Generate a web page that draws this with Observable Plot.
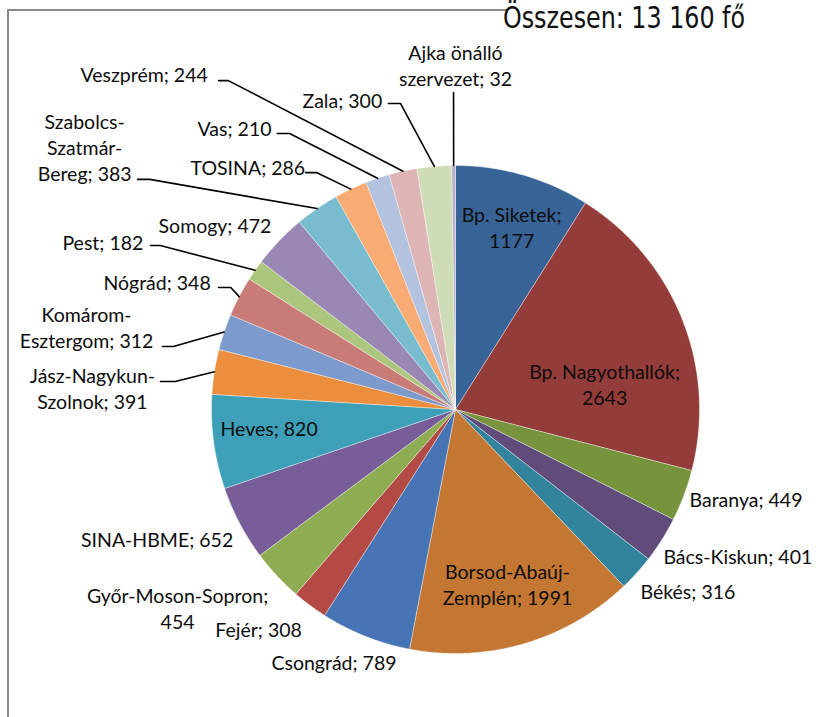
<!DOCTYPE html>
<html>
<head>
<meta charset="utf-8">
<script src="https://cdn.jsdelivr.net/npm/d3@7"></script>
<script src="https://cdn.jsdelivr.net/npm/@observablehq/plot@0.6"></script>
<style>
  html, body { margin: 0; padding: 0; background: #fff; }
  #wrap { position: relative; width: 816px; height: 717px; overflow: hidden; background: #fff; }
  #frame { position: absolute; left: 7px; top: 9px; width: 498px; height: 760px;
           border-left: 2px solid #8a8a8a; border-top: 2px solid #8a8a8a; pointer-events: none; z-index: 2; }
  #chart { position: absolute; left: 0; top: 0; }
  #title { position: absolute; left: 503px; top: 3px; z-index: 3; white-space: nowrap;
           font-family: "Liberation Sans Narrow", "DejaVu Sans Condensed", sans-serif;
           font-size: 30px; line-height: 30px; color: #111; transform-origin: 0 0; }
</style>
</head>
<body>
<div id="wrap">
  <div id="chart"></div>
  <div id="frame"></div>
  <span id="title"></span>
</div>
<script>
// ---- data ----
const categories = ["Bp. Siketek","Bp. Nagyothallók","Baranya","Bács-Kiskun","Békés","Borsod-Abaúj-Zemplén","Csongrád","Fejér","Győr-Moson-Sopron","SINA-HBME","Heves","Jász-Nagykun-Szolnok","Komárom-Esztergom","Nógrád","Pest","Somogy","Szabolcs-Szatmár-Bereg","TOSINA","Vas","Veszprém","Zala","Ajka önálló szervezet"];
const values = [1177,2643,449,401,316,1991,789,308,454,652,820,391,312,348,182,472,383,286,210,244,300,32];
const colors = ["#386397","#943C3A","#77933C","#604B7B","#31849C","#C47733","#4674B4","#B34A46","#8EAD52","#785D99","#3DA0B8","#EB8E3D","#7C9BCC","#C97B78","#ADC67E","#9A88B4","#79BCCF","#F8AB73","#B3C3DF","#DCB5B4","#CFDDB6","#B9AECB"];
const labelTexts = ["Bp. Siketek;\n1177","Bp. Nagyothallók;\n2643","Baranya; 449","Bács-Kiskun; 401","Békés; 316","Borsod-Abaúj-\nZemplén; 1991","Csongrád; 789","Fejér; 308","Győr-Moson-Sopron;\n454","SINA-HBME; 652","Heves; 820","Jász-Nagykun-\nSzolnok; 391","Komárom-\nEsztergom; 312","Nógrád; 348","Pest; 182","Somogy; 472","Szabolcs-\nSzatmár-\nBereg; 383","TOSINA; 286","Vas; 210","Veszprém; 244","Zala; 300","Ajka önálló\nszervezet; 32"];
const titleText = "Összesen: 13 160 fő";

// ---- layout (pie-radius units relative to pie centre): [x, y, anchor, leaderX, leaderY, elbow] ----
const labelLayout = [
  [0.230, 0.748, "middle"],
  [0.611, 0.107, "middle"],
  [0.959, -0.365, "start"],
  [0.852, -0.598, "start"],
  [0.758, -0.742, "start"],
  [0.213, -0.715, "middle"],
  [-0.498, -1.033, "middle"],
  [-0.807, -0.898, "middle"],
  [-1.139, -0.814, "middle"],
  [-1.223, -0.529, "middle"],
  [-0.764, -0.074, "middle"],
  [-1.488, 0.090, "middle", -1.209, 0.115, 0.06],
  [-1.512, 0.338, "middle", -1.201, 0.258, 0.045],
  [-1.443, 0.525, "start", -0.971, 0.500, 0.05],
  [-1.611, 0.689, "start", -1.250, 0.672, 0.04],
  [-1.217, 0.758, "start"],
  [-1.520, 1.076, "middle", -1.303, 0.943, 0.05],
  [-1.086, 0.996, "start", -0.615, 0.971, 0.045],
  [-1.057, 1.156, "start", -0.730, 1.131, 0.05],
  [-1.537, 1.377, "start", -0.971, 1.348, 0.04],
  [-0.627, 1.270, "start", -0.275, 1.254, 0.05],
  [0, 1.412, "middle", -0.008, 1.299, 0]
];

const R = 244, CX = 455, CY = 409, W = 816, H = 717;

const arcs = d3.pie().sort(null).value(d => d)(values);

const slicePts = [];
arcs.forEach((a, i) => {
  const name = categories[i];
  const n = Math.max(2, Math.ceil((a.endAngle - a.startAngle) / (Math.PI / 360)));
  slicePts.push({name, x: 0, y: 0});
  for (let k = 0; k <= n; k++) {
    const t = a.startAngle + (a.endAngle - a.startAngle) * k / n;
    slicePts.push({name, x: Math.sin(t), y: Math.cos(t)});
  }
  slicePts.push({name, x: 0, y: 0});
});

const labels = labelLayout.map((l, i) => ({name: categories[i], text: labelTexts[i], x: l[0], y: l[1], anchor: l[2]}));

const leaderPts = [];
labelLayout.forEach((l, i) => {
  if (l[3] === undefined) return;
  const a = arcs[i];
  const mid = (a.startAngle + a.endAngle) / 2;
  const name = categories[i];
  leaderPts.push({name, x: l[3], y: l[4]});
  if (l[5]) leaderPts.push({name, x: l[3] + l[5], y: l[4]});
  leaderPts.push({name, x: Math.sin(mid), y: Math.cos(mid)});
});

const font = {fontFamily: "Lato, 'Open Sans', sans-serif", fontSize: 19.5, lineHeight: 1.33, fill: "#0d0d0d", lineAnchor: "middle"};

const chart = Plot.plot({
  width: W, height: H, margin: 0,
  x: {domain: [-CX / R, (W - CX) / R], axis: null},
  y: {domain: [(CY - H) / R, CY / R], axis: null},
  color: {domain: categories, range: colors},
  style: {background: "transparent", overflow: "visible"},
  marks: [
    Plot.line(slicePts, {x: "x", y: "y", z: "name", fill: "name", stroke: "#ffffff", strokeWidth: 0.7, strokeOpacity: 0.55}),
    Plot.line(leaderPts, {x: "x", y: "y", z: "name", stroke: "#000", strokeWidth: 1.6}),
    Plot.text(labels.filter(d => d.anchor === "middle"), {x: "x", y: "y", text: "text", textAnchor: "middle", ...font}),
    Plot.text(labels.filter(d => d.anchor === "start"), {x: "x", y: "y", text: "text", textAnchor: "start", ...font})
  ]
});
document.getElementById("chart").appendChild(chart);

const title = document.getElementById("title");
title.textContent = titleText;
const w = title.getBoundingClientRect().width;
title.style.transform = `scaleX(${242 / w})`;
</script>
</body>
</html>
